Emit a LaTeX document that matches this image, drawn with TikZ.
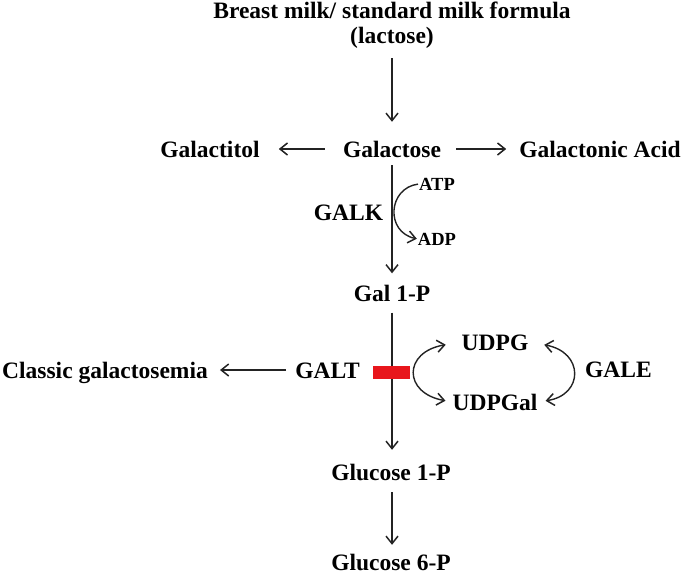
\documentclass[tikz,border=0pt]{standalone}
\usepackage{fontspec}
\setmainfont{Liberation Serif}
\usetikzlibrary{arrows.meta}
\definecolor{blockred}{RGB}{232,22,28}
\definecolor{linegray}{RGB}{35,35,35}
\tikzset{
  lbl/.style={anchor=base, inner sep=0pt, text height=21pt, text depth=5pt,
    font=\fontsize{23.5}{26}\selectfont\bfseries},
  sml/.style={anchor=base, inner sep=0pt, text height=12pt, text depth=0pt,
    font=\fontsize{18.5}{20}\selectfont\bfseries},
  tip/.tip={Straight Barb[length=7.5pt,width=12pt,line width=1.5pt]},
  arr/.style={draw=linegray, line width=1.4pt, -tip},
  darr/.style={draw=linegray, line width=1.4pt, tip-tip},
  blocker/.style={fill=blockred, draw=none, minimum width=37pt, minimum height=13pt, inner sep=0pt}
}
\begin{document}
\begin{tikzpicture}[x=1pt,y=-1pt]
\useasboundingbox (0,0) rectangle (685,576);
% nodes
\node[lbl] (title) at (392,18) {Breast milk/ standard milk formula};
\node[lbl] (lac) at (392,43) {(lactose)};
\node[lbl] (gal) at (392,157) {Galactose};
\node[lbl] (galtol) at (210,157) {Galactitol};
\node[lbl] (galac) at (600,157) {Galactonic Acid};
\node[lbl] (galk) at (348.5,220) {GALK};
\node[sml] (atp) at (437,190) {ATP};
\node[sml] (adp) at (437,245) {ADP};
\node[lbl] (gal1p) at (392,301.5) {Gal 1-P};
\node[lbl] (galt) at (327.5,378) {GALT};
\node[lbl] (classic) at (105,378) {Classic galactosemia};
\node[lbl] (udpg) at (495,350) {UDPG};
\node[lbl] (udpgal) at (495,410) {UDPGal};
\node[lbl] (gale) at (618.5,377) {GALE};
\node[lbl] (glc1p) at (391,480) {Glucose 1-P};
\node[lbl] (glc6p) at (391,570) {Glucose 6-P};
% connectors
\draw[arr, shorten <=10pt, shorten >=14pt] (lac.south) -- (gal.north);
\draw[arr, shorten <=18pt, shorten >=19pt] (gal.west) -- (galtol.east);
\draw[arr, shorten <=15pt, shorten >=13pt] (gal.east) -- (galac.west);
\draw[arr, shorten <=3pt, shorten >=7pt] (gal.south) -- (gal1p.north);
\draw[arr, shorten <=1pt, shorten >=1pt] (atp.west) .. controls (388,188) and (385,232) .. (adp.west);
\draw[arr, shorten <=6pt, shorten >=9pt] (gal1p.south) -- (glc1p.north -| gal1p.south);
\node[blocker] (block) at (391.5,372.5) {};
\draw[arr, shorten <=9pt, shorten >=12pt] (galt.west) -- (classic.east |- galt.west);
\draw[darr, shorten <=16pt, shorten >=7pt] (udpg.west) .. controls (403,352) and (403,393) .. (udpgal.west);
\draw[darr, shorten <=16pt, shorten >=8pt] (udpg.east) .. controls (584,352) and (584,395) .. (udpgal.east);
\draw[arr, shorten <=7pt, shorten >=4pt] (glc1p.south -| gal1p.south) -- (glc6p.north -| gal1p.south);
\end{tikzpicture}
\end{document}
